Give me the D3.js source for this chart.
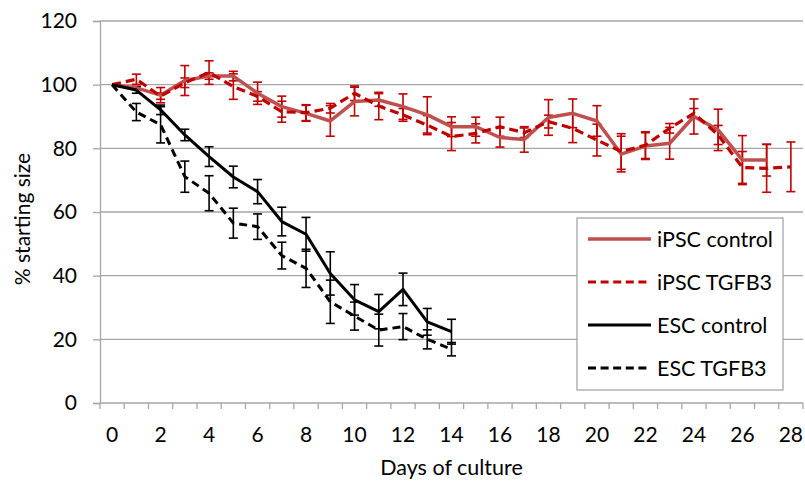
<!DOCTYPE html>
<html>
<head>
<meta charset="utf-8">
<script src="https://cdn.jsdelivr.net/npm/d3@7"></script>
<style>
  body { margin: 0; background: #fff; }
  svg { display: block; font-family: Lato, "Open Sans", sans-serif; }
</style>
</head>
<body>
<div id="chart"></div>
<script>
// data (% of starting size, mean +/- error)
const days = d3.range(0, 29);
const xTickLabels = [0, 2, 4, 6, 8, 10, 12, 14, 16, 18, 20, 22, 24, 26, 28];
const yTicks = [0, 20, 40, 60, 80, 100, 120];

const ipscControl = [100, 99, 96.7, 101.3, 102.7, 102.7, 97.3, 93.1, 91, 88.6, 94.7, 95.2, 93.1, 90.5, 86.8,
  86.8, 83.4, 82.8, 89.7, 91, 88.6, 78.2, 80.7, 81.6, 90, 85.8, 76.3, 76.3];
const ipscControlErr = [0, 0.5, 2.4, 4.7, 1, 1.5, 3.5, 3.3, 2.5, 4.8, 4.5, 2, 4, 5.7, 3.1,
  3, 3, 4, 5.6, 4.5, 4.8, 5.6, 4.2, 5, 5.5, 6.5, 7.7, 5];

const ipscTgfb3 = [100, 101.7, 96.4, 100.6, 103.8, 99.4, 96.3, 91.5, 91.2, 92.6, 97.3, 93.3, 90.5, 87.3, 83.7,
  84.7, 86.8, 84.9, 88.4, 86.3, 82.6, 79, 81, 86.3, 91, 84.2, 74, 73.7, 74.2];
const ipscTgfb3Err = [0, 1.6, 1, 1.5, 3.7, 4, 1.5, 3.3, 2.5, 1.5, 2.3, 4.3, 2, 3, 4.4,
  3, 3, 1.5, 2, 4.5, 5, 5.6, 4.2, 1.5, 1.5, 3, 5, 7.5, 7.8];

const escControl = [100, 98.3, 92.1, 84.2, 77.4, 71, 66.4, 57, 53, 40.7, 32.4, 28.7, 35.7, 25.5, 22.4];
const escControlErr = [0, 1, 1.5, 1.8, 3.1, 3.4, 3.8, 4.5, 5.3, 6.8, 4.8, 5.4, 5.1, 4.2, 3.9];

const escTgfb3 = [100, 91.4, 87.4, 71.1, 65.9, 56.5, 55.4, 46.3, 42.3, 31.8, 27.3, 22.9, 24, 20, 16.9];
const escTgfb3Err = [0, 2.7, 5.7, 4.9, 5.5, 4.7, 4, 4.2, 6, 6.8, 4.4, 5, 4.1, 3, 2.1];

const series = [
  { name: "iPSC control", values: ipscControl, err: ipscControlErr, color: "#C0504D", bar: "#C00000", dash: null, w: 3.5 },
  { name: "iPSC TGFB3", values: ipscTgfb3, err: ipscTgfb3Err, color: "#C00000", bar: "#C00000", dash: "9,5", w: 3.2 },
  { name: "ESC control", values: escControl, err: escControlErr, color: "#000000", bar: "#000000", dash: null, w: 3 },
  { name: "ESC TGFB3", values: escTgfb3, err: escTgfb3Err, color: "#000000", bar: "#000000", dash: "8,5", w: 3 }
];

const W = 805, H = 482;
const margin = { top: 21, right: 2, bottom: 79, left: 100 };
const gridColor = "#A6A6A6";
const tickFont = "21px";

const svg = d3.select("#chart").append("svg")
  .attr("width", W).attr("height", H);

const x = d3.scaleBand().domain(days).range([margin.left, W - margin.right]).padding(0);
const cx = d => x(d) + x.bandwidth() / 2;
const y = d3.scaleLinear().domain([0, 120]).range([H - margin.bottom, margin.top]);

// horizontal gridlines
svg.append("g")
  .selectAll("line")
  .data(yTicks.filter(t => t > 0))
  .join("line")
  .attr("x1", margin.left).attr("x2", W - margin.right)
  .attr("y1", d => y(d)).attr("y2", d => y(d))
  .attr("stroke", gridColor).attr("stroke-width", 1.3);

// y axis
const yAxis = svg.append("g")
  .attr("transform", `translate(${margin.left},0)`)
  .call(d3.axisLeft(y).tickValues(yTicks).tickSize(7).tickPadding(16));
yAxis.select(".domain").attr("stroke", gridColor).attr("stroke-width", 1.3);
yAxis.selectAll(".tick line").attr("stroke", gridColor).attr("stroke-width", 1.3);
yAxis.selectAll(".tick text").attr("font-size", tickFont).attr("fill", "#000").attr("font-family", "Lato");

// x axis: ticks between categories
const xAxis = svg.append("g");
xAxis.append("line")
  .attr("x1", margin.left).attr("x2", W - margin.right)
  .attr("y1", y(0)).attr("y2", y(0))
  .attr("stroke", gridColor).attr("stroke-width", 1.3);
xAxis.selectAll(".xt")
  .data(days.concat([29]))
  .join("line")
  .attr("class", "xt")
  .attr("x1", d => d < 29 ? x(d) : W - margin.right)
  .attr("x2", d => d < 29 ? x(d) : W - margin.right)
  .attr("y1", y(0)).attr("y2", y(0) + 6)
  .attr("stroke", gridColor).attr("stroke-width", 1.3);
xAxis.selectAll(".xl")
  .data(xTickLabels)
  .join("text")
  .attr("class", "xl")
  .attr("x", d => cx(d))
  .attr("y", y(0) + 39)
  .attr("text-anchor", "middle")
  .attr("font-size", tickFont)
  .text(d => d);

// axis titles
svg.append("text")
  .attr("x", (margin.left + W - margin.right) / 2)
  .attr("y", 475)
  .attr("text-anchor", "middle")
  .attr("font-size", "21.5px")
  .text("Days of culture");

svg.append("text")
  .attr("transform", "translate(30,219) rotate(-90)")
  .attr("text-anchor", "middle")
  .attr("font-size", "21px")
  .text("% starting size");

// error bars
const cap = 4.5;
series.forEach(s => {
  const g = svg.append("g").attr("stroke", s.bar).attr("stroke-width", 1.6).attr("fill", "none");
  s.values.forEach((v, i) => {
    const e = s.err[i];
    if (!e) return;
    const px = cx(days[i]);
    g.append("line").attr("x1", px).attr("x2", px).attr("y1", y(v - e)).attr("y2", y(v + e));
    g.append("line").attr("x1", px - cap).attr("x2", px + cap).attr("y1", y(v - e)).attr("y2", y(v - e));
    g.append("line").attr("x1", px - cap).attr("x2", px + cap).attr("y1", y(v + e)).attr("y2", y(v + e));
  });
});

// lines
const line = d3.line().x((d, i) => cx(days[i])).y(d => y(d));
series.forEach(s => {
  svg.append("path")
    .datum(s.values)
    .attr("d", line)
    .attr("fill", "none")
    .attr("stroke", s.color)
    .attr("stroke-width", s.w)
    .attr("stroke-dasharray", s.dash)
    .attr("stroke-linejoin", "round");
});

// legend
const leg = svg.append("g");
leg.append("rect")
  .attr("x", 577).attr("y", 218).attr("width", 206).attr("height", 172)
  .attr("fill", "#fff").attr("stroke", gridColor).attr("stroke-width", 1.3);
series.forEach((s, i) => {
  const ly = 239 + i * 43;
  leg.append("line")
    .attr("x1", 588).attr("x2", 651).attr("y1", ly).attr("y2", ly)
    .attr("stroke", s.color).attr("stroke-width", s.w)
    .attr("stroke-dasharray", s.dash ? "8,4.6" : null);
  leg.append("text")
    .attr("x", 657).attr("y", ly)
    .attr("dy", "0.35em")
    .attr("font-size", "21.5px")
    .text(s.name);
});
</script>
</body>
</html>
